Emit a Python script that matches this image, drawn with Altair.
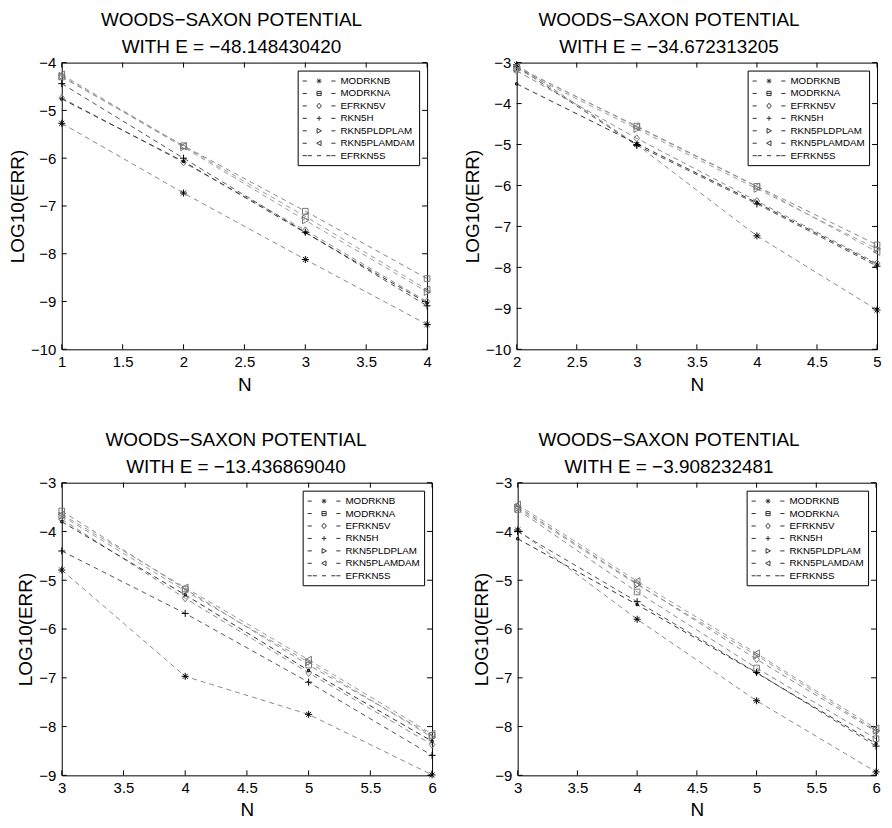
import altair as alt
import pandas as pd
import numpy as np

SERIES = ["MODRKNB", "MODRKNA", "EFRKN5V", "RKN5H", "RKN5PLDPLAM", "RKN5PLAMDAM", "EFRKN5S"]

# Panel 1: E = -48.148430420
N1 = [1, 2, 3, 4]
P1 = {
    "MODRKNB":     [-5.27, -6.73, -8.12, -9.48],
    "MODRKNA":     [-4.30, -5.74, -7.11, -8.52],
    "EFRKN5V":     [-4.74, -6.09, -7.51, -9.00],
    "RKN5H":       [-4.44, -6.00, -7.55, -9.09],
    "RKN5PLDPLAM": [-4.28, -5.77, -7.30, -8.80],
    "RKN5PLAMDAM": [-4.25, -5.75, -7.22, -8.75],
    "EFRKN5S":     [-4.76, -6.07, -7.56, -9.03],
}
# Panel 2: E = -34.672313205
N2 = [2, 3, 4, 5]
P2 = {
    "MODRKNB":     [-3.05, -5.00, -7.23, -9.04],
    "MODRKNA":     [-3.12, -4.55, -6.02, -7.45],
    "EFRKN5V":     [-3.20, -4.85, -6.38, -7.90],
    "RKN5H":       [-3.10, -5.02, -6.45, -7.97],
    "RKN5PLDPLAM": [-3.15, -4.62, -6.08, -7.55],
    "RKN5PLAMDAM": [-3.10, -4.57, -6.03, -7.62],
    "EFRKN5S":     [-3.52, -4.98, -6.42, -7.93],
}
# Panel 3: E = -13.436869040
N3 = [3, 4, 5, 6]
P3 = {
    "MODRKNB":     [-4.79, -6.97, -7.75, -8.99],
    "MODRKNA":     [-3.58, -5.18, -6.74, -8.18],
    "EFRKN5V":     [-3.75, -5.37, -6.90, -8.37],
    "RKN5H":       [-4.40, -5.68, -7.09, -8.59],
    "RKN5PLDPLAM": [-3.68, -5.22, -6.68, -8.22],
    "RKN5PLAMDAM": [-3.65, -5.15, -6.63, -8.15],
    "EFRKN5S":     [-3.80, -5.30, -6.85, -8.30],
}
# Panel 4: E = -3.908232481
N4 = [3, 4, 5, 6]
P4 = {
    "MODRKNB":     [-3.97, -5.80, -7.47, -8.93],
    "MODRKNA":     [-3.55, -5.24, -6.80, -8.25],
    "EFRKN5V":     [-3.49, -5.07, -6.62, -8.10],
    "RKN5H":       [-4.00, -5.44, -6.89, -8.40],
    "RKN5PLDPLAM": [-3.52, -5.09, -6.54, -8.08],
    "RKN5PLAMDAM": [-3.45, -5.02, -6.50, -8.04],
    "EFRKN5S":     [-4.15, -5.50, -6.90, -8.35],
}

TITLE1 = "WOODS\u2212SAXON POTENTIAL"
TITLE2 = ["WITH E = \u221248.148430420", "WITH E = \u221234.672313205",
          "WITH E = \u221213.436869040", "WITH E = \u22123.908232481"]
XDOM = [[1, 4], [2, 5], [3, 6], [3, 6]]
YDOM = [[-10, -4], [-10, -3], [-9, -3], [-9, -3]]
TITLE_DX = [-13, -28, -11, -28]
WIDTHS = [367, 362, 372, 360]
HEIGHTS = [288, 288, 294, 294]
XLAB_PAD = [5, 5, 5, 5]
XTITLE_PAD = [6, 6, 5, 5]

# styles
LINE_COLORS = ["#888888", "#888888", "#888888", "#555555", "#999999", "#999999", "#333333"]
MARK_COLORS = ["#000000", "#777777", "#777777", "#000000", "#777777", "#777777", "#000000"]
MARK_PATHS = [
    "M-1,0H1M0,-1V1M-0.7,-0.7L0.7,0.7M-0.7,0.7L0.7,-0.7",
    "M-0.8,-0.8H0.8V0.8H-0.8Z",
    "M0,-1L0.8,0L0,1L-0.8,0Z",
    "M-1,0H1M0,-1V1",
    "M-0.8,-1L1,0L-0.8,1Z",
    "M0.8,-1L-1,0L0.8,1Z",
    "M-0.3,-0.3H0.3V0.3H-0.3Z",
]
DASH = "M-2.75,0H-2.05M2.05,0H2.75"
LEG_PATHS = [
    DASH + "M-0.4,0H0.4M0,-0.4V0.4M-0.28,-0.28L0.28,0.28M-0.28,0.28L0.28,-0.28",
    DASH + "M-0.35,-0.35H0.35V0.35H-0.35ZM-0.35,0H0.35",
    DASH + "M0,-0.45L0.38,0L0,0.45L-0.38,0Z",
    DASH + "M-0.4,0H0.4M0,-0.4V0.4",
    DASH + "M-0.33,-0.4L0.4,0L-0.33,0.4Z",
    DASH + "M0.33,-0.4L-0.4,0L0.33,0.4Z",
    DASH + "M-1.9,0H-1.2M-0.35,0H0.35M1.2,0H1.9",
]

FONT = "Liberation Sans"


def panel(k, ns, vals):
    W, H = WIDTHS[k], HEIGHTS[k]
    rows = []
    for s in SERIES:
        for n, v in zip(ns, vals[s]):
            rows.append({"N": n, "err": v, "series": s})
    df = pd.DataFrame(rows)
    xs = alt.Scale(domain=XDOM[k], nice=False, zero=False)
    ys = alt.Scale(domain=YDOM[k], nice=False, zero=False)
    xticks = [float(v) for v in np.arange(XDOM[k][0], XDOM[k][1] + 0.01, 0.5)]
    yticks = [float(v) for v in np.arange(YDOM[k][0], YDOM[k][1] + 0.01, 1.0)]
    xaxis = alt.Axis(values=xticks, title="N", ticks=False, grid=False, domain=False, format="~r",
                     labelPadding=XLAB_PAD[k], labelFlush=False, labelOverlap=False,
                     titlePadding=XTITLE_PAD[k])
    yaxis = alt.Axis(values=yticks, title="LOG10(ERR)", ticks=False, grid=False, domain=False,
                     format="~r", labelPadding=6, labelFlush=False, labelOverlap=False,
                     titlePadding=3)

    xt = pd.DataFrame({"t": xticks})
    yt = pd.DataFrame({"t": yticks})
    tick_b = alt.Chart(xt).mark_rule(color="black").encode(
        x=alt.X("t:Q", scale=xs, axis=xaxis), y=alt.value(H), y2=alt.value(H - 5))
    tick_t = alt.Chart(xt).mark_rule(color="black").encode(
        x=alt.X("t:Q", scale=xs), y=alt.value(0), y2=alt.value(5))
    tick_l = alt.Chart(yt).mark_rule(color="black").encode(
        y=alt.Y("t:Q", scale=ys, axis=yaxis), x=alt.value(0), x2=alt.value(5))
    tick_r = alt.Chart(yt).mark_rule(color="black").encode(
        y=alt.Y("t:Q", scale=ys), x=alt.value(W), x2=alt.value(W - 5))

    base = alt.Chart(df)
    lines = base.mark_line(strokeDash=[5, 4], strokeWidth=1).encode(
        x=alt.X("N:Q", scale=xs),
        y=alt.Y("err:Q", scale=ys),
        color=alt.Color("series:N", scale=alt.Scale(domain=SERIES, range=LINE_COLORS), legend=None),
        detail="series:N",
    )
    pts = base.mark_point(filled=False, size=50, strokeWidth=1, opacity=1).encode(
        x=alt.X("N:Q", scale=xs),
        y=alt.Y("err:Q", scale=ys),
        shape=alt.Shape("series:N", scale=alt.Scale(domain=SERIES, range=MARK_PATHS), legend=None),
        stroke=alt.Stroke("series:N", scale=alt.Scale(domain=SERIES, range=MARK_COLORS), legend=None),
    )
    leg = base.transform_filter("false").mark_point(filled=False).encode(
        x=alt.X("N:Q", scale=xs),
        y=alt.Y("err:Q", scale=ys),
        shape=alt.Shape("series:N", scale=alt.Scale(domain=SERIES, range=LEG_PATHS),
                        legend=alt.Legend(title=None, orient="top-right", offset=8,
                                          strokeColor="black", fillColor="white", padding=4,
                                          labelFont=FONT, labelFontSize=9.8, labelColor="black",
                                          symbolSize=144, symbolStrokeColor="#333333",
                                          symbolFillColor="transparent", symbolStrokeWidth=1,
                                          symbolOpacity=1, symbolOffset=11, labelOffset=15,
                                          rowPadding=0.5, cornerRadius=0)),
    )
    layer = alt.layer(tick_b, tick_t, tick_l, tick_r, lines, pts, leg).resolve_scale(
        shape="independent").properties(
        width=W, height=H,
        title=alt.Title(TITLE1, subtitle=TITLE2[k], fontSize=19, font=FONT, fontWeight="normal",
                        subtitleFont=FONT, subtitleFontSize=19, subtitleColor="black",
                        subtitlePadding=8, anchor="middle", offset=-1, dx=TITLE_DX[k],
                        color="black"),
    )
    return layer


p1 = panel(0, N1, P1)
p2 = panel(1, N2, P2)
p3 = panel(2, N3, P3)
p4 = panel(3, N4, P4)

chart = alt.vconcat(
    alt.hconcat(p1, p2, spacing=29),
    alt.hconcat(p3, p4, spacing=33),
    spacing=35,
).properties(padding={"left": 0, "top": 0, "right": 0, "bottom": 0}).configure_view(
    stroke="black", strokeWidth=1).configure_axis(
    labelFont=FONT, labelFontSize=15, labelColor="black",
    titleFont=FONT, titleFontSize=19, titleFontWeight="normal", titleColor="black",
)

chart.save("out.html", embed_options={"renderer": "svg", "actions": False})
